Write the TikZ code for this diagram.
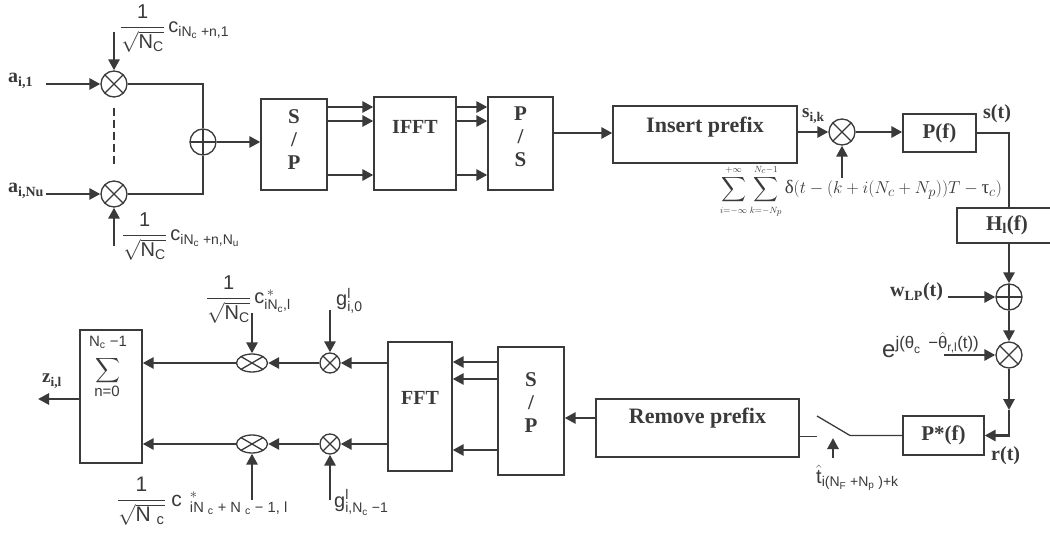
\documentclass[tikz,border=0pt]{standalone}
\usepackage{amsmath}
\usepackage{mathtools}
\usepackage{fontspec}
\setmainfont{Liberation Serif}
\setsansfont{Liberation Sans}
\usetikzlibrary{arrows.meta,shapes.geometric,calc}
\definecolor{ink}{RGB}{58,58,58}
\newcommand{\tx}[1]{\text{#1}}
\begin{document}
\begin{tikzpicture}[x=1pt,y=-1pt,color=ink,
  thinl/.style={line width=1.3pt},
  arr/.style={line width=2.8pt,-{Triangle[length=11pt,width=11pt]}},
  blk/.style={draw,line width=1.3pt,inner sep=0pt},
  blbl/.style={align=center,font=\fontsize{21}{23}\selectfont\bfseries,text=ink},
  crossp/.style={path picture={\draw[line width=1.3pt] (path picture bounding box.north west)--(path picture bounding box.south east) (path picture bounding box.south west)--(path picture bounding box.north east);}},
  plusp/.style={path picture={\draw[line width=1.3pt] (path picture bounding box.north)--(path picture bounding box.south) (path picture bounding box.west)--(path picture bounding box.east);}},
  mult/.style={circle,draw,line width=1.3pt,minimum size=26pt,inner sep=0pt,crossp},
  adder/.style={circle,draw,line width=1.3pt,minimum size=26pt,inner sep=0pt,plusp},
  smult/.style={circle,draw,line width=1.3pt,minimum size=20pt,inner sep=0pt,crossp},
  emult/.style={ellipse,draw,line width=1.3pt,minimum width=31pt,minimum height=18pt,inner sep=0pt,crossp},
  slbl/.style={inner sep=0pt,anchor=base west,font=\fontsize{20}{22}\selectfont\sffamily},
  rlbl/.style={inner sep=0pt,anchor=base west,font=\fontsize{20}{22}\selectfont\bfseries},
]
\path[fill=white,use as bounding box] (0,0) rectangle (1050,537);

% ---------- transmitter front ----------
\node[mult] (m1) at (114,84) {};
\node[mult] (m2) at (114,194) {};
\node[adder] (ad1) at (203,142) {};
\node[rlbl] (la1) at (8,83) {$\tx{a}_{\tx{i,1}}$};
\node[rlbl] (la2) at (8,193) {$\tx{a}_{\tx{i,Nu}}$};
\coordinate (a1s) at (46,84);
\coordinate (a2s) at (46,194);
\draw[arr] (a1s) -- (m1);
\draw[arr] (a2s) -- (m2);
\node[slbl] (k1) at (120,33) {$\dfrac{\tx{1}}{\sqrt{\tx{N}_{\tx{C}}}}\,\tx{c}_{\tx{iN}_{\tx{c}}\tx{ +n,1}}$};
\node[slbl] (k2) at (122,241) {$\dfrac{\tx{1}}{\sqrt{\tx{N}_{\tx{C}}}}\,\tx{c}_{\tx{iN}_{\tx{c}}\tx{ +n,N}_{\tx{u}}}$};
\coordinate (t1s) at (114,32);
\coordinate (t2s) at (114,246);
\draw[arr] (t1s) -- (m1);
\draw[arr] (t2s) -- (m2);
\draw[line width=2.6pt,dash pattern=on 8pt off 4pt] ($(m1.south)+(0,10)$) -- ($(m2.north)-(0,14)$);
\draw[thinl] (m1.east) -| (ad1.north);
\draw[thinl] (m2.east) -| (ad1.south);

% ---------- blocks ----------
\node[blk,minimum width=66pt,minimum height=91pt,label={[blbl,yshift=4.5pt]center:S\\/\\P}] (sp1) at (294,144.5) {};
\node[blk,minimum width=82pt,minimum height=93pt,label={[blbl,font=\fontsize{20}{22}\selectfont\bfseries,yshift=16.5pt]center:IFFT}] (ifft) at (415,143.5) {};
\node[blk,minimum width=65pt,minimum height=93pt,label={[blbl,yshift=6.5pt]center:P\\/\\S}] (ps) at (520.5,143.5) {};
\node[blk,minimum width=184pt,minimum height=57pt,label={[blbl,font=\fontsize{22}{24}\selectfont\bfseries,yshift=7.3pt]center:Insert prefix}] (ins) at (705,134.5) {};
\node[mult] (m3) at (842,132) {};
\node[blk,minimum width=73pt,minimum height=38pt,font=\fontsize{21}{23}\selectfont\bfseries] (pf) at (939.5,133) {P(f)};
\node[blk,minimum width=104pt,minimum height=35pt,label={[blbl,xshift=-2pt]center:$\tx{H}_{\tx{l}}\tx{(f)}$}] (hf) at (1009,225.5) {};
\node[adder] (ad2) at (1009,297) {};
\node[mult] (m4) at (1009,355) {};
\node[blk,minimum width=81pt,minimum height=39pt,font=\fontsize{21}{23}\selectfont\bfseries] (psf) at (943.5,435.5) {P*(f)};
\node[blk,minimum width=203pt,minimum height=58pt,label={[blbl,font=\fontsize{22}{24}\selectfont\bfseries,yshift=10pt]center:Remove prefix}] (rem) at (697.5,428) {};
\node[blk,minimum width=66pt,minimum height=128pt,label={[blbl,yshift=8pt]center:S\\/\\P}] (sp2) at (531,411) {};
\node[blk,minimum width=64pt,minimum height=129pt,label={[blbl,font=\fontsize{20}{22}\selectfont\bfseries,yshift=8.5pt]center:FFT}] (fft) at (420,406.5) {};
\node[smult] (c1) at (330,363) {};
\node[smult] (c2) at (330,444) {};
\node[emult] (e1) at (252,363) {};
\node[emult] (e2) at (252,444) {};
\node[blk,minimum width=62pt,minimum height=133pt] (sum) at (111,396.5) {};
\node[font=\fontsize{16}{18}\selectfont,inner sep=0pt] (sg) at (108,371) {$\displaystyle\sum$};
\node[font=\fontsize{15}{16}\selectfont\sffamily,inner sep=0pt] (sgt) at (108,342) {$\tx{N}_{\tx{c}}\tx{ −1}$};
\node[font=\fontsize{15}{16}\selectfont\sffamily,inner sep=0pt] (sgb) at (107,391) {n=0};

% ---------- rows ----------
\coordinate (r1) at (0,107);
\coordinate (r2) at (0,121);
\coordinate (r3) at (0,175);
\coordinate (rP) at (0,133);
\draw[arr] (ad1.east) -- (ad1.east -| sp1.west);
\foreach \r in {r1,r2,r3} {
  \draw[arr] (sp1.east |- \r) -- (ifft.west |- \r);
  \draw[arr] (ifft.east |- \r) -- (ps.west |- \r);
}
\draw[arr] (ps.east |- rP) -- (ins.west |- rP);
\draw[arr] (m3 -| ins.east) -- (m3.west);
\draw[arr] (m3.east) -- (m3.east -| pf.west);
\draw[thinl] (pf.east) -| (hf.north);
\coordinate (dx) at (842,178);
\draw[arr] (dx) -- (m3.south);
\draw[arr] (hf.south) -- (ad2.north);
\coordinate (wx) at (948,297);
\draw[arr] (wx) -- (ad2.west);
\draw[arr] (ad2.south) -- (m4.north);
\coordinate (ex) at (944,355);
\draw[arr] (ex) -- (m4.west);
\coordinate (rc) at (1009,410);
\draw[arr] (m4.south) -- (rc);
\draw[arr] (rc) |- (psf.east);

% switch
\coordinate (swA) at (850,435.5);
\coordinate (swB) at (817,416);
\coordinate (swC) at (817,436.5);
\draw[thinl] (psf.west) -- (swA) -- (swB);
\draw[thinl] (swC -| rem.east) -- (swC);
\coordinate (kk0) at (833,458);
\coordinate (kk1) at (833,438);
\draw[arr] (kk0) -- (kk1);

% receiver
\coordinate (rr) at (0,418);
\draw[arr] (rem.west |- rr) -- (sp2.east |- rr);
\coordinate (q1) at (0,362);
\coordinate (q2) at (0,379);
\coordinate (q3) at (0,450);
\foreach \r in {q1,q2,q3} {
  \draw[arr] (sp2.west |- \r) -- (fft.east |- \r);
}
\draw[arr] (c1 -| fft.west) -- (c1);
\draw[arr] (c2 -| fft.west) -- (c2);
\draw[arr] (c1) -- (e1);
\draw[arr] (c2) -- (e2);
\draw[arr] (e1) -- (e1 -| sum.east);
\draw[arr] (e2) -- (e2 -| sum.east);
\coordinate (zr) at (0,399);
\coordinate (zend) at (38,399);
\draw[arr] (sum.west |- zr) -- (zend);
\coordinate (g0) at (330,310);
\coordinate (g1) at (330,500);
\draw[arr] (g0) -- (c1);
\draw[arr] (g1) -- (c2);
\coordinate (h0) at (252,313);
\coordinate (h1) at (252,500);
\draw[arr] (h0) -- (e1);
\draw[arr] (h1) -- (e2);

% ---------- labels ----------
\node[rlbl,font=\fontsize{19}{21}\selectfont\bfseries] (lsk) at (802,118) {$\tx{s}_{\tx{i,k}}$};
\node[rlbl] (lst) at (983,119) {s(t)};
\node[rlbl] (lw) at (890,297) {$\tx{w}_{\tx{LP}}\tx{(t)}$};
\node[rlbl] (lr) at (991,460) {r(t)};
\node[rlbl,font=\fontsize{19}{21}\selectfont\bfseries] (lz) at (42,383) {$\tx{z}_{\tx{i,l}}$};
\node[inner sep=0pt,anchor=base west,font=\fontsize{19}{21}\selectfont] (dl) at (720,194) {$\displaystyle\sum_{\scriptscriptstyle i=-\infty}^{\scriptscriptstyle +\infty}\sum_{\scriptscriptstyle k=-N_p}^{\scriptscriptstyle N_c-1}\tx{δ}(t-(k+i(N_c+N_p))T-\tx{τ}_c)$};
\node[inner sep=0pt,anchor=base west,font=\fontsize{24}{26}\selectfont\sffamily] (le) at (882,358) {e$^{\tx{j(θ}_{\tx{c}}\,\tx{ −}\hat{\tx{θ}}_{\tx{r,l}}\tx{(t))}}$};
\node[slbl] (lt) at (816,483) {$\hat{\tx{t}}_{\tx{i(N}_{\tx{F}}\tx{ +N}_{\tx{p}}\tx{ )+k}}$};
\node[slbl] (lg0) at (336,306) {$\tx{g}^{\tx{l}}_{\tx{i,0}}$};
\node[slbl] (lg1) at (334,507) {$\tx{g}^{\tx{l}}_{\tx{i,N}_{\tx{c}}\tx{ −1}}$};
\node[slbl] (k3) at (206,304) {$\dfrac{\tx{1}}{\sqrt{\tx{N}_{\tx{C}}}}\,\tx{c}^{\,*}_{\tx{iN}_{\tx{c}}\tx{,l}}$};
\node[slbl,font=\fontsize{21}{23}\selectfont\sffamily] (k4) at (117,506) {$\dfrac{\tx{1}}{\sqrt{\tx{N }_{\tx{c}}}}\;\tx{c}{}^{\;\;*}_{\;\;\tx{iN }_{\tx{c}}\tx{ + N }_{\tx{c}}\tx{ − 1, l}}$};
\end{tikzpicture}
\end{document}
